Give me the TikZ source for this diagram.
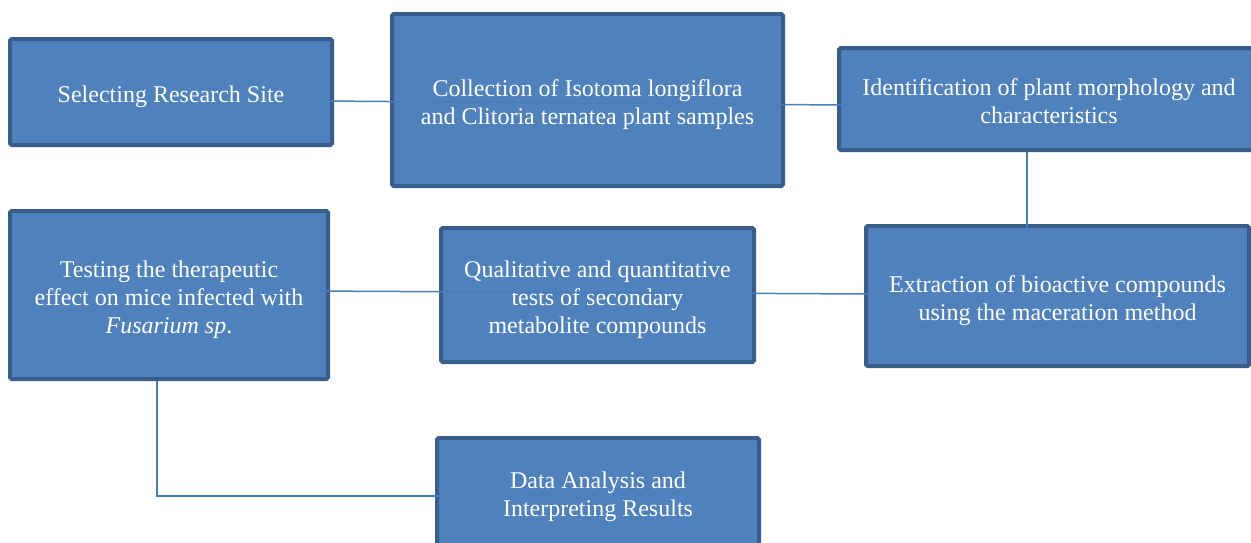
\documentclass[tikz,border=0pt]{standalone}
\usepackage{fontspec}
\setmainfont{Liberation Serif}
\usepackage{tikz}
\definecolor{flow-fill}{HTML}{4F81BD}
\definecolor{flow-edge}{HTML}{385D8A}
\definecolor{flow-link}{HTML}{4A7EBB}
\newcommand{\toplift}{\rule{0pt}{14.3pt}}

\begin{document}
\begin{tikzpicture}[x=0.5pt, y=-0.5pt,
    stepbox/.style={draw=flow-edge, line width=2pt, fill=flow-fill, rounded corners=0.8pt,
        text=white, align=center, inner sep=0pt,
        font=\fontsize{12}{14}\selectfont},
    link/.style={draw=flow-link, line width=0.75pt}]

    \useasboundingbox (0,0) rectangle (1251,542);
    \clip (0,0) rectangle (1251,542);

    % Top row
    \node[stepbox, minimum width=161pt, minimum height=53pt] (site) at (171, 92)
        {\toplift Selecting Research Site\strut};
    \node[stepbox, minimum width=195.5pt, minimum height=86pt] (collect) at (587.5, 100)
        {\toplift Collection of Isotoma longiflora\\and Clitoria ternatea plant samples\strut};
    \node[stepbox, minimum width=210pt, minimum height=51pt] (ident) at (1049, 99)
        {\toplift Identification of plant morphology and\\characteristics\strut};

    % Middle row
    \node[stepbox, minimum width=191.5pt, minimum height=70pt] (extract) at (1057.5, 296)
        {\toplift Extraction of bioactive compounds\\using the maceration method\strut};
    \node[stepbox, minimum width=156.5pt, minimum height=67pt] (tests) at (597.5, 295)
        {\toplift Qualitative and quantitative\\tests of secondary\\metabolite compounds\strut};
    \node[stepbox, minimum width=159pt, minimum height=84pt] (mice) at (169, 295)
        {\toplift Testing the therapeutic\\effect on mice infected with\\\textit{Fusarium sp}.\strut};

    % Bottom row
    \node[stepbox, minimum width=161pt, minimum height=54pt] (analysis) at (598, 492)
        {\toplift Data Analysis and\\Interpreting Results\strut};

    % Connectors
    \draw[link] ([xshift=-6pt, yshift=-4.5pt]site.east) -- ([xshift=3pt, yshift=-3pt]ident.west);
    \draw[link] (ident.south -| 1027, 0) -- ([yshift=-5.5pt]extract.north -| 1027, 0);
    \draw[link] ([xshift=-11pt, yshift=2pt]mice.east) -- ([xshift=3.5pt, yshift=1pt]extract.west);
    \draw[link] (mice.south -| 157, 0) |- ([xshift=8pt, yshift=-2pt]analysis.west);

\end{tikzpicture}
\end{document}
